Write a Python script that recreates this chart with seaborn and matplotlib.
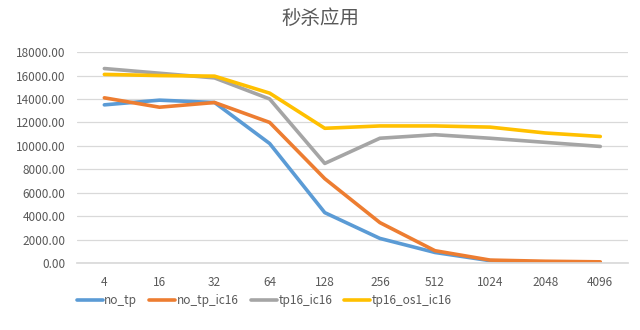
import matplotlib
matplotlib.use("Agg")
import matplotlib.pyplot as plt
import seaborn as sns
import pandas as pd

categories = ["4", "16", "32", "64", "128", "256", "512", "1024", "2048", "4096"]
no_tp = [13500, 13900, 13700, 10200, 4300, 2100, 900, 200, 60, 20]
no_tp_ic16 = [14100, 13300, 13700, 12000, 7200, 3450, 1050, 250, 150, 100]
tp16_ic16 = [16600, 16200, 15800, 14000, 8500, 10650, 10950, 10650, 10300, 9950]
tp16_os1_ic16 = [16100, 16000, 15950, 14500, 11500, 11700, 11700, 11600, 11100, 10800]
series_names = ["no_tp", "no_tp_ic16", "tp16_ic16", "tp16_os1_ic16"]
series_values = [no_tp, no_tp_ic16, tp16_ic16, tp16_os1_ic16]
colors = ["#5B9BD5", "#ED7D31", "#A5A5A5", "#FFC000"]
title = "秒杀应用"

rows = []
for name, vals in zip(series_names, series_values):
    for c, v in zip(categories, vals):
        rows.append({"x": c, "value": v, "series": name})
df = pd.DataFrame(rows)

sns.set_theme(style="white")
plt.rcParams['font.family'] = ['Noto Sans CJK SC', 'DejaVu Sans']

fig = plt.figure(figsize=(6.4, 3.3), dpi=100)
ax = fig.add_axes([0.12, 0.203, 0.861, 0.639])
sns.lineplot(data=df, x="x", y="value", hue="series", palette=colors,
             sort=False, linewidth=2.6, ax=ax, legend=True)

ax.set_xlim(-0.5, len(categories) - 0.5)
ax.set_ylim(0, 18000)
ax.set_yticks(range(0, 18001, 2000))
ax.set_yticklabels([f"{v:.2f}" for v in range(0, 18001, 2000)])
ax.yaxis.grid(True, color="#D9D9D9", linewidth=0.9)
ax.set_axisbelow(True)
for s in ["top", "right", "left"]:
    ax.spines[s].set_visible(False)
ax.spines["bottom"].set_color("#D9D9D9")
ax.tick_params(axis="both", length=0, labelsize=8.5, colors="#595959", pad=8)
ax.tick_params(axis="x", pad=9)
ax.set_xlabel("")
ax.set_ylabel("")
fig.text(0.5, 0.945, title, ha="center", va="center", fontsize=14, color="#595959")

handles, labels = ax.get_legend_handles_labels()
ax.legend(handles, labels, loc="center", bbox_to_anchor=(0.34, -0.18), ncol=4,
          frameon=False, fontsize=8.5, handlelength=2.2, handletextpad=0.15,
          columnspacing=1.0, labelcolor="#595959")

fig.savefig("out.png", dpi=100)
